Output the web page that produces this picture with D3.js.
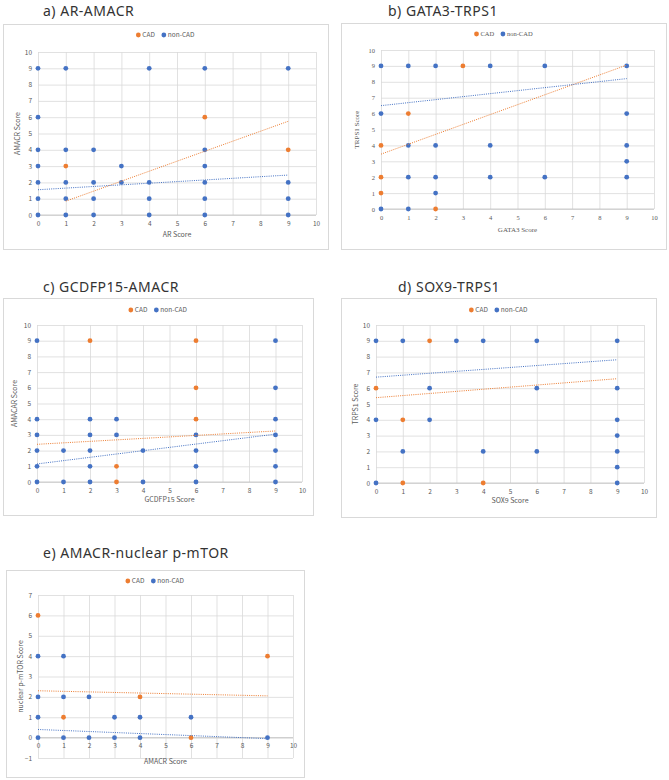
<!DOCTYPE html>
<html lang="en">
<head>
<meta charset="UTF-8">
<title>CAD scatter panels</title>
<script src="https://cdn.jsdelivr.net/npm/d3@7"></script>
<style>
	body{margin:0;background:#fff;}
	svg{display:block;}
</style>
</head>
<body>
<svg id="svg" width="669" height="780"></svg>
<script>
// a) AR-AMACR
var cadA = [[1,3],[6,6],[9,4]];
var nonA = [[0,9],[1,9],[4,9],[6,9],[9,9],[0,6],[0,4],[1,4],[2,4],[6,4],[0,3],[3,3],[6,3],
	[0,2],[1,2],[2,2],[3,2],[4,2],[6,2],[9,2],[0,1],[1,1],[2,1],[4,1],[6,1],[9,1],
	[0,0],[1,0],[2,0],[4,0],[6,0],[9,0]];
var trendCadA = [[1,0.85],[9,5.75]];
var trendNonA = [[0,1.55],[9,2.45]];

// b) GATA3-TRPS1
var cadB = [[3,9],[1,6],[0,4],[0,2],[0,1],[2,0]];
var nonB = [[0,9],[1,9],[2,9],[4,9],[6,9],[9,9],[0,6],[9,6],[1,4],[2,4],[4,4],[9,4],[9,3],
	[1,2],[2,2],[4,2],[6,2],[9,2],[2,1],[0,0],[1,0]];
var trendCadB = [[0,3.45],[9,9.05]];
var trendNonB = [[0,6.5],[9,8.2]];

// c) GCDFP15-AMACR
var cadC = [[2,9],[6,9],[6,6],[6,4],[3,1],[3,0]];
var nonC = [[0,9],[9,9],[9,6],[0,4],[2,4],[3,4],[9,4],[0,3],[2,3],[3,3],[6,3],[9,3],
	[0,2],[1,2],[2,2],[4,2],[6,2],[9,2],[0,1],[2,1],[6,1],[9,1],
	[0,0],[1,0],[2,0],[4,0],[6,0],[9,0]];
var trendCadC = [[0,2.4],[9,3.25]];
var trendNonC = [[0,1.15],[9,3.05]];

// d) SOX9-TRPS1
var cadD = [[2,9],[0,6],[1,4],[1,0],[4,0]];
var nonD = [[0,9],[1,9],[3,9],[4,9],[6,9],[9,9],[2,6],[6,6],[9,6],[0,4],[2,4],[9,4],[9,3],
	[1,2],[4,2],[6,2],[9,2],[9,1],[0,0],[9,0]];
var trendCadD = [[0,5.4],[9,6.6]];
var trendNonD = [[0,6.7],[9,7.8]];

// e) AMACR-nuclear p-mTOR
var cadE = [[0,6],[9,4],[4,2],[1,1],[6,0]];
var nonE = [[0,4],[1,4],[0,2],[1,2],[2,2],[0,1],[3,1],[4,1],[6,1],
	[0,0],[1,0],[2,0],[3,0],[4,0],[9,0]];
var trendCadE = [[0,2.3],[9,2.05]];
var trendNonE = [[0,0.4],[9,-0.05]];

var xTicks = d3.range(0, 11);
var yTicks = d3.range(0, 11);
var yTicksE = d3.range(-1, 8);
var legendNames = ["CAD", "non-CAD"];

var ORANGE = "#ED7D31", BLUE = "#4472C4", GRID = "#d9d9d9", TXT = "#595959";
var sans = "'Noto Sans CJK JP', 'Noto Sans', sans-serif";
var serif = "'Liberation Serif', 'DejaVu Serif', serif";

var svg = d3.select("#svg");

var panels = [
	{title:"a) AR-AMACR", tx:43, ty:16, box:[3,24,328,249], l:38, r:316, t:52, b:215,
		yDom:[0,10], yT:yTicks, legY:35, xLab:"AR Score", xLabY:237, yLab:"AMACR Score", yLabX:18,
		cad:cadA, non:nonA, tc:trendCadA, tn:trendNonA, font:sans},
	{title:"b) GATA3-TRPS1", tx:388, ty:16, box:[341,23,666,249], l:381, r:654, t:50, b:209,
		yDom:[0,10], yT:yTicks, legY:34, xLab:"GATA3 Score", xLabY:232, yLab:"TRPS1 Score", yLabX:357,
		cad:cadB, non:nonB, tc:trendCadB, tn:trendNonB, font:serif},
	{title:"c) GCDFP15-AMACR", tx:43, ty:292, box:[3,298,313,515], l:37, r:302, t:325, b:482,
		yDom:[0,10], yT:yTicks, legY:310, xLab:"GCDFP15 Score", xLabY:502, yLab:"AMACAR Score", yLabX:15,
		cad:cadC, non:nonC, tc:trendCadC, tn:trendNonC, font:sans},
	{title:"d) SOX9-TRPS1", tx:398, ty:292, box:[341,298,656,517], l:376, r:644, t:325, b:483,
		yDom:[0,10], yT:yTicks, legY:310, xLab:"SOX9 Score", xLabY:503, yLab:"TRPS1 Score", yLabX:356,
		cad:cadD, non:nonD, tc:trendCadD, tn:trendNonD, font:sans},
	{title:"e) AMACR-nuclear p-mTOR", tx:43, ty:558, box:[6,570,304,777], l:38, r:293, t:595, b:758,
		yDom:[-1,7], yT:yTicksE, legY:581, xLab:"AMACR Score", xLabY:764, yLab:"nuclear p-mTOR Score", yLabX:21,
		cad:cadE, non:nonE, tc:trendCadE, tn:trendNonE, font:sans}
];

panels.forEach(drawPanel);

function drawPanel(p){
	var g = svg.append("g");
	g.append("rect")
		.attr("x", p.box[0] + 0.5).attr("y", p.box[1] + 0.5)
		.attr("width", p.box[2] - p.box[0]).attr("height", p.box[3] - p.box[1])
		.attr("fill", "#fff").attr("stroke", GRID).attr("stroke-width", 1);

	svg.append("text").attr("x", p.tx).attr("y", p.ty)
		.attr("font-family", "'Noto Sans', sans-serif").attr("font-size", 14)
		.attr("letter-spacing", 0.5).attr("fill", "#333")
		.text(p.title);

	var x = d3.scaleLinear().domain([0, 10]).range([p.l, p.r]);
	var y = d3.scaleLinear().domain(p.yDom).range([p.b, p.t]);

	// grid
	var gx = g.append("g").attr("transform", "translate(0," + p.b + ")")
		.call(d3.axisBottom(x).tickValues(xTicks).tickSize(-(p.b - p.t)).tickFormat(""));
	var gy = g.append("g").attr("transform", "translate(" + p.l + ",0)")
		.call(d3.axisLeft(y).tickValues(p.yT).tickSize(-(p.r - p.l)).tickFormat(""));
	[gx, gy].forEach(function(a){
		a.select(".domain").remove();
		a.selectAll("line").attr("stroke", GRID).attr("stroke-width", 0.8);
	});

	// tick labels
	var lx = g.append("g").attr("transform", "translate(0," + y(0) + ")")
		.call(d3.axisBottom(x).tickValues(xTicks).tickSize(0).tickPadding(6));
	var ly = g.append("g").attr("transform", "translate(" + p.l + ",0)")
		.call(d3.axisLeft(y).tickValues(p.yT).tickSize(0).tickPadding(6));
	[lx, ly].forEach(function(a){
		a.select(".domain").remove();
		a.selectAll("text").attr("fill", TXT).attr("font-size", 6.5).attr("font-family", p.font);
	});
	g.append("line").attr("x1", p.l).attr("x2", p.r).attr("y1", y(0)).attr("y2", y(0))
		.attr("stroke", "#bfbfbf").attr("stroke-width", 0.8);

	// axis titles
	g.append("text").attr("x", (p.l + p.r) / 2).attr("y", p.xLabY)
		.attr("text-anchor", "middle").attr("font-size", 7).attr("font-family", p.font)
		.attr("fill", TXT).text(p.xLab);
	g.append("text")
		.attr("transform", "translate(" + p.yLabX + "," + (p.t + p.b) / 2 + ") rotate(-90)")
		.attr("text-anchor", "middle").attr("dominant-baseline", "middle")
		.attr("font-size", 7).attr("font-family", p.font)
		.attr("fill", TXT).text(p.yLab);

	// points: CAD first, non-CAD on top
	[[p.cad, ORANGE], [p.non, BLUE]].forEach(function(s){
		g.append("g").selectAll("circle").data(s[0]).enter().append("circle")
			.attr("cx", function(d){ return x(d[0]); })
			.attr("cy", function(d){ return y(d[1]); })
			.attr("r", 2.4).attr("fill", s[1]);
	});

	// trendlines
	var line = d3.line().x(function(d){ return x(d[0]); }).y(function(d){ return y(d[1]); });
	[[p.tc, ORANGE], [p.tn, BLUE]].forEach(function(s){
		g.append("path").datum(s[0]).attr("d", line)
			.attr("fill", "none").attr("stroke", s[1]).attr("stroke-width", 1)
			.attr("stroke-dasharray", "1,1.2");
	});

	// legend
	var cx = (p.box[0] + p.box[2]) / 2;
	var leg = g.append("g").attr("font-size", 6.5).attr("font-family", p.font).attr("fill", TXT);
	var items = leg.selectAll("g").data(legendNames).enter().append("g");
	items.append("circle").attr("r", 2.4)
		.attr("fill", function(d, i){ return i ? BLUE : ORANGE; });
	items.append("text").attr("x", 4).attr("dy", "0.35em").text(function(d){ return d; });
	var widths = [];
	items.each(function(){ widths.push(this.getBBox().width); });
	var total = d3.sum(widths) + 6;
	items.attr("transform", function(d, i){
		var px = cx - total / 2 + 2.4 + (i ? widths[0] + 6 : 0);
		return "translate(" + px + "," + p.legY + ")";
	});
}
</script>
</body>
</html>
